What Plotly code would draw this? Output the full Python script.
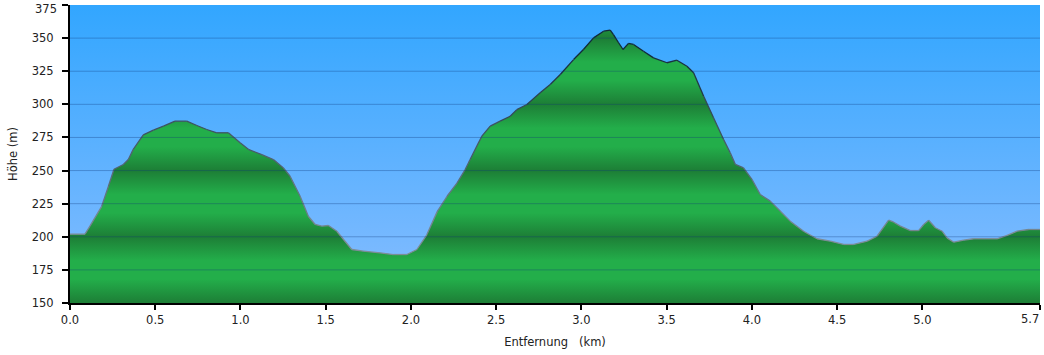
import plotly.graph_objects as go

# ---- data ----
dist_km = [0.0, 0.088, 0.117, 0.186, 0.225, 0.258, 0.313, 0.342, 0.371, 0.430,
           0.489, 0.548, 0.616, 0.685, 0.744, 0.802, 0.861, 0.929, 0.998, 1.046,
           1.125, 1.193, 1.252, 1.291, 1.350, 1.398, 1.438, 1.477, 1.516, 1.565,
           1.653, 1.721, 1.819, 1.897, 1.976, 2.035, 2.093, 2.154, 2.212, 2.271,
           2.318, 2.347, 2.416, 2.465, 2.523, 2.582, 2.621, 2.680, 2.758, 2.817,
           2.876, 2.954, 3.012, 3.071, 3.130, 3.169, 3.188, 3.218, 3.244, 3.276,
           3.306, 3.364, 3.423, 3.502, 3.560, 3.619, 3.658, 3.717, 3.775, 3.834,
           3.873, 3.903, 3.951, 4.001, 4.049, 4.108, 4.167, 4.225, 4.303, 4.382,
           4.460, 4.538, 4.597, 4.676, 4.734, 4.802, 4.832, 4.871, 4.930, 4.978,
           5.008, 5.037, 5.076, 5.116, 5.145, 5.184, 5.242, 5.301, 5.438, 5.497,
           5.556, 5.624, 5.690]
elev_m = [202, 202, 208, 223, 238, 251, 254.6, 258.3, 266, 277,
          280.5, 283.5, 287.3, 287.3, 284, 281, 278.5, 278.5, 271, 266,
          262, 258.3, 252, 245.7, 230.6, 215.5, 209.3, 208, 208.5, 204.2,
          190.4, 189.1, 187.9, 186.6, 186.6, 190.4, 201.5, 219, 230.6, 240.7,
          250.8, 258.3, 276, 283.5, 287.3, 291, 296, 299.9, 308.7, 315,
          322.5, 333.8, 341.4, 350.2, 355.2, 356, 352.7, 346.5, 341.4, 346,
          345.2, 340.1, 335.1, 331.4, 333.3, 328.8, 323.8, 306.1, 289.8, 273.4,
          263.4, 254.6, 252, 243.2, 231.9, 226.9, 219.3, 211.8, 204.2, 198.5,
          196.7, 194.2, 194.2, 196.7, 200.4, 212.5, 211, 208, 204.7, 204.7,
          209.3, 212.5, 206.8, 204.2, 199.2, 195.9, 197.4, 198.5, 198.5, 201,
          204.2, 205.5, 205.5]

x_tickvals = [0.0, 0.5, 1.0, 1.5, 2.0, 2.5, 3.0, 3.5, 4.0, 4.5, 5.0, 5.69]
x_ticktext = ["0.0", "0.5", "1.0", "1.5", "2.0", "2.5", "3.0", "3.5", "4.0",
              "4.5", "5.0", "5.7"]
y_tickvals = [150, 175, 200, 225, 250, 275, 300, 325, 350, 375]
y_ticktext = ["150", "175", "200", "225", "250", "275", "300", "325", "350", "375"]

X_MAX = 5.69
Y_MIN, Y_MAX = 150, 375

FONT = "DejaVu Sans"
TXT = "#222222"
FS = 11.5

# ---- green fill colorscale: banded, period 50 m ----
dark = (29, 126, 54)
bright = (35, 174, 74)


def rgb(c):
    return "rgb(%d,%d,%d)" % c


span = Y_MAX - Y_MIN
green_scale = []
base = Y_MIN
while base < Y_MAX:
    for off, col in ((0, dark), (18, bright), (32, bright), (50, dark)):
        e = base + off
        if e <= Y_MAX:
            pos = (e - Y_MIN) / span
            if not green_scale or pos > green_scale[-1][0]:
                green_scale.append([pos, rgb(col)])
    base += 50
if green_scale[-1][0] < 1:
    green_scale.append([1.0, rgb(bright)])

fig = go.Figure()

# background gradient (sky)
fig.add_trace(go.Scatter(
    x=[0, X_MAX], y=[Y_MAX, Y_MAX], mode="lines", line=dict(width=0),
    fill="tozeroy",
    fillgradient=dict(type="vertical", start=Y_MIN, stop=Y_MAX,
                      colorscale=[[0, "rgb(136,189,255)"], [1, "rgb(50,166,255)"]]),
    hoverinfo="skip", showlegend=False))

# terrain fill
fig.add_trace(go.Scatter(
    x=dist_km, y=elev_m, mode="lines", line=dict(width=0),
    fill="tozeroy",
    fillgradient=dict(type="vertical", start=Y_MIN, stop=Y_MAX,
                      colorscale=green_scale),
    hoverinfo="skip", showlegend=False))

# outline, colour darkening with height
lo_col = (125, 140, 150)
hi_col = (18, 42, 58)


def line_col(e):
    t = min(max((e - 200) / (340 - 200), 0), 1)
    return tuple(int(round(lo_col[i] + (hi_col[i] - lo_col[i]) * t)) for i in range(3))


bins = {}
for i in range(len(dist_km) - 1):
    m = (elev_m[i] + elev_m[i + 1]) / 2
    b = int((m - 180) // 12)
    bins.setdefault(b, ([], []))
    bins[b][0].extend([dist_km[i], dist_km[i + 1], None])
    bins[b][1].extend([elev_m[i], elev_m[i + 1], None])
for b, (xs, ys) in sorted(bins.items()):
    mid = 180 + 12 * b + 6
    fig.add_trace(go.Scatter(x=xs, y=ys, mode="lines",
                             line=dict(color=rgb(line_col(mid)), width=1.3),
                             hoverinfo="skip", showlegend=False))

# grid lines above everything
for v in y_tickvals[1:-1]:
    fig.add_shape(type="line", xref="paper", x0=0, x1=1, yref="y", y0=v, y1=v,
                  line=dict(color="rgba(15,55,120,0.33)", width=1), layer="above")

# end tick labels, nudged inside the page (as in the reference)
fig.add_annotation(x=x_tickvals[-1], xref="x", y=0, yref="paper",
                   text=x_ticktext[-1], showarrow=False,
                   xanchor="right", yanchor="top", xshift=1, yshift=-7,
                   font=dict(family=FONT, size=FS, color=TXT))
fig.add_annotation(x=0, xref="paper", y=y_tickvals[-1], yref="y",
                   text=y_ticktext[-1], showarrow=False,
                   xanchor="right", yanchor="middle", xshift=-11, yshift=-4,
                   font=dict(family=FONT, size=FS, color=TXT))

fig.update_layout(
    width=1044, height=355, autosize=False,
    margin=dict(l=70, r=4, t=5, b=52),
    paper_bgcolor="white", plot_bgcolor="rgb(90,175,255)",
    font=dict(family=FONT, size=FS, color=TXT),
    showlegend=False,
)
fig.update_xaxes(
    range=[0, X_MAX], tickvals=x_tickvals,
    ticktext=x_ticktext[:-1] + [""], automargin=False,
    showgrid=False, zeroline=False, showline=True, linecolor="black", linewidth=2,
    ticks="outside", ticklen=5, tickwidth=2, tickcolor="black",
    ticklabelstandoff=0,
    title=dict(text="Entfernung\u00a0\u00a0\u00a0(km)", standoff=12,
               font=dict(family=FONT, size=FS, color=TXT)),
    layer="above traces",
)
fig.update_yaxes(
    range=[Y_MIN, Y_MAX], tickvals=y_tickvals,
    ticktext=y_ticktext[:-1] + [""], automargin=False,
    showgrid=False, zeroline=False, showline=True, linecolor="black", linewidth=2,
    ticks="outside", ticklen=6, tickwidth=2, tickcolor="black",
    ticklabelstandoff=6,
    title=dict(text="Höhe (m)", standoff=12,
               font=dict(family=FONT, size=FS, color=TXT)),
    layer="above traces",
)

fig.write_html("out.html",
               config={"displayModeBar": False, "responsive": False, "staticPlot": True},
               post_script="document.body.style.margin='0px';")
